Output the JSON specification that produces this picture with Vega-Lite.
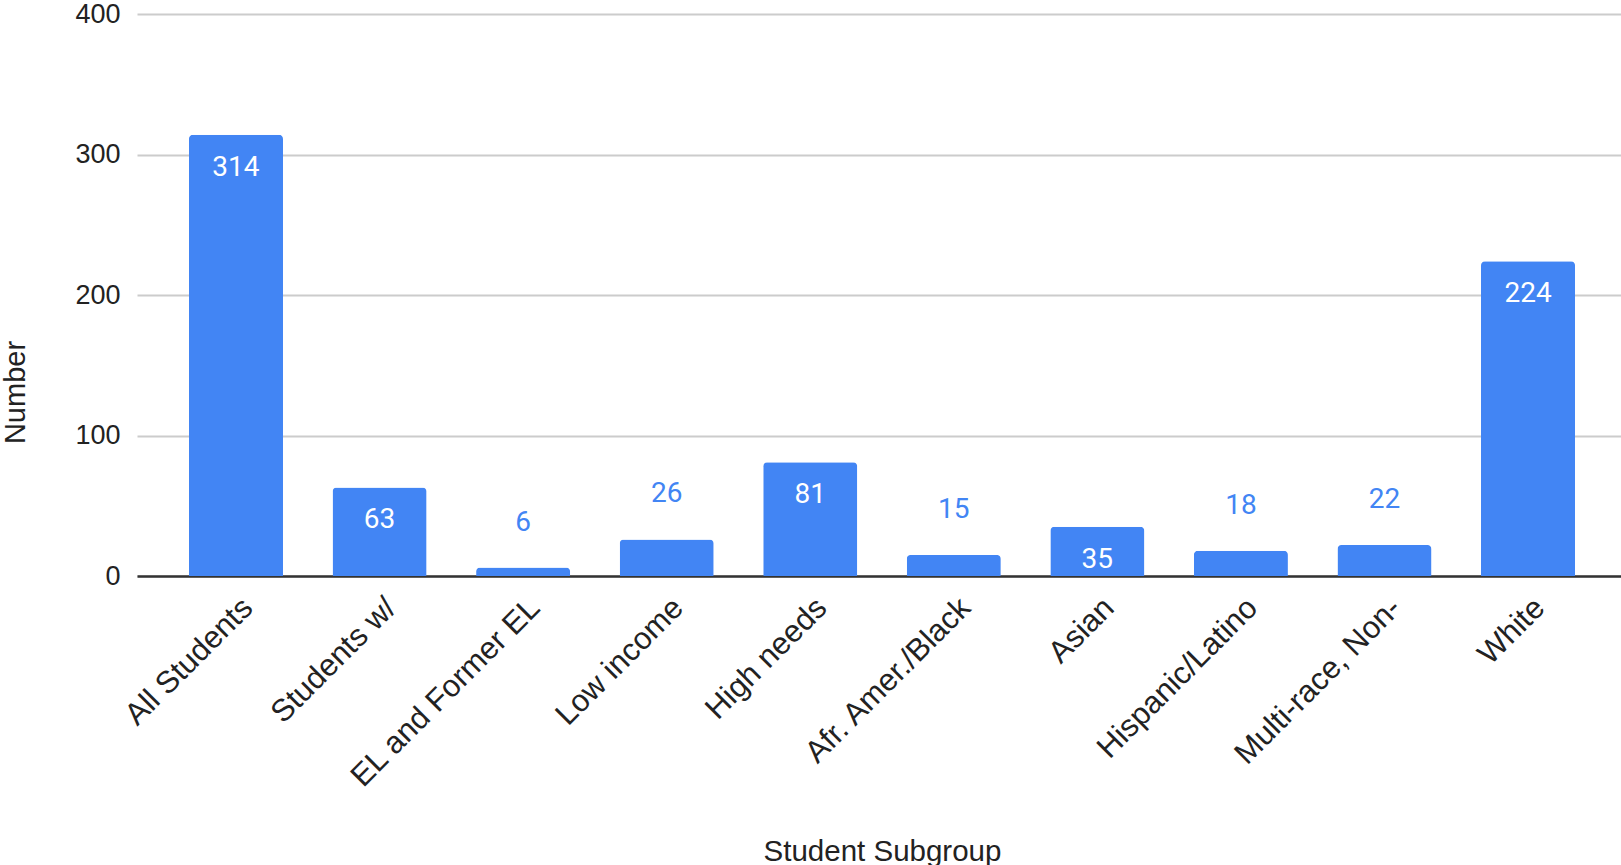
{
  "$schema": "https://vega.github.io/schema/vega-lite/v6.json",
  "width": 1484,
  "height": 562,
  "autosize": {"type": "none"},
  "padding": {"left": 137, "top": 14, "right": 0, "bottom": 289},
  "background": "white",
  "config": {"view": {"stroke": null}},
  "data": {
    "values": [
      {"Subgroup": "All Students", "Number": 314},
      {"Subgroup": "Students w/", "Number": 63},
      {"Subgroup": "EL and Former EL", "Number": 6},
      {"Subgroup": "Low income", "Number": 26},
      {"Subgroup": "High needs", "Number": 81},
      {"Subgroup": "Afr. Amer./Black", "Number": 15},
      {"Subgroup": "Asian", "Number": 35},
      {"Subgroup": "Hispanic/Latino", "Number": 18},
      {"Subgroup": "Multi-race, Non-", "Number": 22},
      {"Subgroup": "White", "Number": 224}
    ]
  },
  "encoding": {
    "x": {
      "field": "Subgroup",
      "type": "nominal",
      "sort": null,
      "scale": {"paddingInner": 0.345, "paddingOuter": 0.362, "range": [0, 1490]},
      "axis": {
        "title": "Student Subgroup",
        "labelAngle": -45,
        "labelAlign": "right",
        "labelBaseline": "middle",
        "labelOffset": 12,
        "labelPadding": 27,
        "labelLimit": 0,
        "ticks": false,
        "domainColor": "#333333",
        "domainWidth": 2.5,
        "labelFont": "Liberation Sans",
        "labelFontSize": 31,
        "labelColor": "#222222",
        "titleFont": "Liberation Sans",
        "titleFontSize": 29.5,
        "titleFontWeight": "normal",
        "titleColor": "#222222",
        "titleY": 284,
        "titleBaseline": "alphabetic"
      }
    },
    "y": {
      "field": "Number",
      "type": "quantitative",
      "scale": {"domain": [0, 400], "nice": false},
      "axis": {
        "values": [0, 100, 200, 300, 400],
        "domain": false,
        "ticks": false,
        "gridColor": "#cccccc",
        "gridWidth": 2,
        "labelPadding": 17,
        "labelFont": "Liberation Sans",
        "labelFontSize": 27,
        "labelColor": "#222222",
        "title": "Number",
        "titleFont": "Liberation Sans",
        "titleFontSize": 29,
        "titleFontWeight": "normal",
        "titleColor": "#222222",
        "titleX": -113,
        "titleY": 378,
        "titleBaseline": "alphabetic"
      }
    }
  },
  "layer": [
    {
      "mark": {"type": "bar", "color": "#4285F4", "cornerRadiusTopLeft": 4, "cornerRadiusTopRight": 4}
    },
    {
      "transform": [{"filter": "datum.Number >= 30"}],
      "mark": {"type": "text", "baseline": "alphabetic", "dy": 41, "font": "Roboto", "fontSize": 28, "color": "#ffffff"},
      "encoding": {"text": {"field": "Number", "type": "quantitative"}}
    },
    {
      "transform": [{"filter": "datum.Number < 30"}],
      "mark": {"type": "text", "baseline": "alphabetic", "dy": -37, "font": "Roboto", "fontSize": 28, "color": "#4285F4"},
      "encoding": {"text": {"field": "Number", "type": "quantitative"}}
    }
  ]
}
